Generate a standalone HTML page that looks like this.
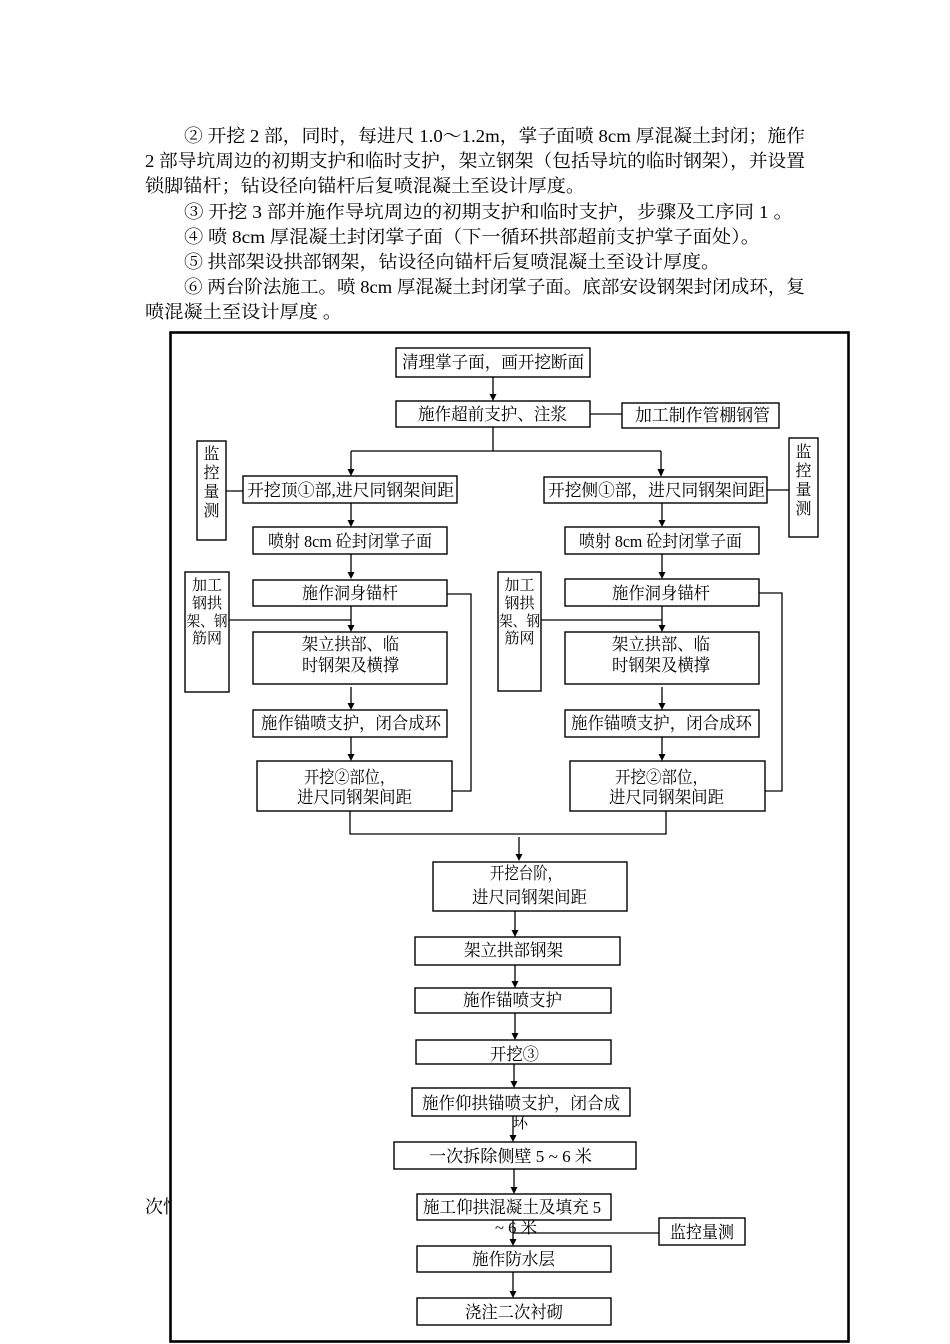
<!DOCTYPE html>
<html><head><meta charset="utf-8">
<style>
html,body{margin:0;padding:0;background:#fff;}
svg{display:block;}
text{font-family:"Liberation Serif","Noto Serif CJK SC",serif;fill:#000;}
</style></head>
<body>
<svg width="950" height="1344" viewBox="0 0 950 1344" xmlns="http://www.w3.org/2000/svg">
<defs>
<clipPath id="cl"><rect x="0" y="1180" width="170" height="50"/></clipPath>
</defs>
<rect width="950" height="1344" fill="#fff"/>

<!-- paragraph -->
<g font-size="18" lengthAdjust="spacingAndGlyphs">
<text x="184" y="142" textLength="621" lengthAdjust="spacingAndGlyphs">② 开挖 2 部，同时，每进尺 1.0～1.2m，掌子面喷 8cm 厚混凝土封闭；施作</text>
<text x="145" y="167" textLength="660" lengthAdjust="spacingAndGlyphs">2 部导坑周边的初期支护和临时支护，架立钢架（包括导坑的临时钢架），并设置</text>
<text x="145" y="192" textLength="440" lengthAdjust="spacingAndGlyphs">锁脚锚杆；钻设径向锚杆后复喷混凝土至设计厚度。</text>
<text x="184" y="218" textLength="609" lengthAdjust="spacingAndGlyphs">③ 开挖 3 部并施作导坑周边的初期支护和临时支护，步骤及工序同 1 。</text>
<text x="184" y="243" textLength="576" lengthAdjust="spacingAndGlyphs">④ 喷 8cm 厚混凝土封闭掌子面（下一循环拱部超前支护掌子面处）。</text>
<text x="184" y="268" textLength="536" lengthAdjust="spacingAndGlyphs">⑤ 拱部架设拱部钢架，钻设径向锚杆后复喷混凝土至设计厚度。</text>
<text x="184" y="293" textLength="621" lengthAdjust="spacingAndGlyphs">⑥ 两台阶法施工。喷 8cm 厚混凝土封闭掌子面。底部安设钢架封闭成环，复</text>
<text x="145" y="318" textLength="197" lengthAdjust="spacingAndGlyphs">喷混凝土至设计厚度 。</text>
</g>

<!-- outside stray text -->
<text x="145" y="1213" font-size="18" clip-path="url(#cl)">次忙</text>

<!-- frame -->
<rect x="170.5" y="332.5" width="678" height="1009" fill="none" stroke="#000" stroke-width="2.6"/>

<!-- connectors -->
<g stroke="#000" stroke-width="1.3" fill="none">
<line x1="493" y1="377" x2="493" y2="395"/>
<line x1="590" y1="414" x2="622" y2="414"/>
<line x1="493" y1="427" x2="493" y2="451"/>
<line x1="351" y1="451" x2="661" y2="451"/>
<line x1="351" y1="451" x2="351" y2="470"/>
<line x1="661" y1="451" x2="661" y2="470"/>
<line x1="226" y1="491" x2="243" y2="491"/>
<line x1="767" y1="490" x2="789" y2="490"/>
<!-- left column -->
<line x1="351" y1="503" x2="351" y2="521"/>
<line x1="351" y1="554" x2="351" y2="573"/>
<line x1="351" y1="606" x2="351" y2="626"/>
<line x1="229" y1="620" x2="351" y2="620"/>
<line x1="351" y1="687" x2="351" y2="704"/>
<line x1="351" y1="737" x2="351" y2="755"/>
<polyline points="447,594 471,594 471,791 452,791"/>
<!-- right column -->
<line x1="662" y1="503" x2="662" y2="521"/>
<line x1="662" y1="554" x2="662" y2="573"/>
<line x1="662" y1="606" x2="662" y2="626"/>
<line x1="541" y1="620" x2="662" y2="620"/>
<line x1="662" y1="687" x2="662" y2="704"/>
<line x1="662" y1="737" x2="662" y2="755"/>
<polyline points="759,593 782,593 782,791 765,791"/>
<!-- merge -->
<polyline points="350,811 350,834 666,834 666,811"/>
<line x1="519" y1="837" x2="519" y2="855"/>
<line x1="515" y1="911" x2="515" y2="931"/>
<line x1="515" y1="965" x2="515" y2="982"/>
<line x1="515" y1="1013" x2="515" y2="1034"/>
<line x1="514" y1="1064" x2="514" y2="1082"/>
<line x1="513" y1="1116" x2="513" y2="1136"/>
<line x1="514" y1="1169" x2="514" y2="1188"/>
<line x1="513" y1="1220" x2="513" y2="1240"/>
<line x1="513" y1="1233" x2="659" y2="1233"/>
<line x1="513" y1="1272" x2="513" y2="1292"/>
</g>

<!-- arrowheads -->
<g fill="#000">
<polygon points="489.5,394 496.5,394 493,401"/>
<polygon points="347.5,469 354.5,469 351,476"/>
<polygon points="657.5,469 664.5,469 661,477"/>
<polygon points="347.5,520 354.5,520 351,527"/>
<polygon points="347.5,572 354.5,572 351,579"/>
<polygon points="347.5,625 354.5,625 351,632"/>
<polygon points="347.5,703 354.5,703 351,710"/>
<polygon points="347.5,754 354.5,754 351,761"/>
<polygon points="658.5,520 665.5,520 662,527"/>
<polygon points="658.5,572 665.5,572 662,579"/>
<polygon points="658.5,625 665.5,625 662,632"/>
<polygon points="658.5,703 665.5,703 662,710"/>
<polygon points="658.5,754 665.5,754 662,761"/>
<polygon points="515.5,854 522.5,854 519,861"/>
<polygon points="511.5,930 518.5,930 515,937"/>
<polygon points="511.5,981 518.5,981 515,988"/>
<polygon points="511.5,1033 518.5,1033 515,1040"/>
<polygon points="510.5,1081 517.5,1081 514,1088"/>
<polygon points="509.5,1135 516.5,1135 513,1142"/>
<polygon points="510.5,1187 517.5,1187 514,1194"/>
<polygon points="509.5,1239 516.5,1239 513,1246"/>
<polygon points="509.5,1291 516.5,1291 513,1298"/>
</g>

<!-- overflow texts (drawn before boxes so boxes clip their tops) -->
<text x="513" y="1128" font-size="16" textLength="15" lengthAdjust="spacingAndGlyphs">环</text>
<text x="495" y="1233" font-size="16" textLength="42" lengthAdjust="spacingAndGlyphs">~ 6 米</text>

<!-- boxes -->
<g fill="#fff" stroke="#000" stroke-width="1.4">
<rect x="396" y="348" width="194" height="29"/>
<rect x="396" y="401" width="194" height="26"/>
<rect x="622" y="403" width="157" height="25"/>
<rect x="197" y="441" width="29" height="99"/>
<rect x="789" y="438" width="29" height="99"/>
<rect x="243" y="476" width="214" height="27"/>
<rect x="544" y="477" width="223" height="26"/>
<rect x="253" y="527" width="194" height="27"/>
<rect x="565" y="527" width="194" height="27"/>
<rect x="253" y="580" width="194" height="26"/>
<rect x="565" y="579" width="194" height="27"/>
<rect x="185" y="572" width="44" height="120"/>
<rect x="498" y="572" width="43" height="119"/>
<rect x="253" y="632" width="194" height="52"/>
<rect x="565" y="632" width="194" height="52"/>
<rect x="253" y="710" width="194" height="27"/>
<rect x="565" y="710" width="194" height="27"/>
<rect x="257" y="761" width="195" height="50"/>
<rect x="570" y="761" width="195" height="50"/>
<rect x="433" y="862" width="194" height="49"/>
<rect x="415" y="937" width="205" height="28"/>
<rect x="415" y="988" width="196" height="25"/>
<rect x="416" y="1040" width="195" height="24"/>
<rect x="412" y="1088" width="218" height="28"/>
<rect x="394" y="1142" width="242" height="27"/>
<rect x="417" y="1194" width="194" height="26"/>
<rect x="659" y="1218" width="86" height="27"/>
<rect x="417" y="1246" width="194" height="26"/>
<rect x="417" y="1298" width="194" height="27"/>
</g>

<!-- box texts -->
<g font-size="17">
<text x="402" y="368" textLength="182" lengthAdjust="spacingAndGlyphs">清理掌子面，画开挖断面</text>
<text x="418" y="420" textLength="149" lengthAdjust="spacingAndGlyphs">施作超前支护、注浆</text>
<text x="635" y="421" textLength="135" lengthAdjust="spacingAndGlyphs">加工制作管棚钢管</text>
<text x="247" y="496" textLength="207" lengthAdjust="spacingAndGlyphs">开挖顶①部,进尺同钢架间距</text>
<text x="548" y="496" textLength="217" lengthAdjust="spacingAndGlyphs">开挖侧①部，进尺同钢架间距</text>
<text x="268" y="547" textLength="164" lengthAdjust="spacingAndGlyphs">喷射 8cm 砼封闭掌子面</text>
<text x="579" y="547" textLength="163" lengthAdjust="spacingAndGlyphs">喷射 8cm 砼封闭掌子面</text>
<text x="302" y="599" textLength="96" lengthAdjust="spacingAndGlyphs">施作洞身锚杆</text>
<text x="612" y="599" textLength="98" lengthAdjust="spacingAndGlyphs">施作洞身锚杆</text>
<text x="302" y="650" textLength="97" lengthAdjust="spacingAndGlyphs">架立拱部、临</text>
<text x="302" y="671" textLength="97" lengthAdjust="spacingAndGlyphs">时钢架及横撑</text>
<text x="612" y="650" textLength="98" lengthAdjust="spacingAndGlyphs">架立拱部、临</text>
<text x="612" y="671" textLength="98" lengthAdjust="spacingAndGlyphs">时钢架及横撑</text>
<text x="261" y="729" textLength="180" lengthAdjust="spacingAndGlyphs">施作锚喷支护，闭合成环</text>
<text x="571" y="729" textLength="181" lengthAdjust="spacingAndGlyphs">施作锚喷支护，闭合成环</text>
<text x="304" y="783" textLength="91" lengthAdjust="spacingAndGlyphs">开挖②部位，</text>
<text x="297" y="803" textLength="115" lengthAdjust="spacingAndGlyphs">进尺同钢架间距</text>
<text x="615" y="783" textLength="93" lengthAdjust="spacingAndGlyphs">开挖②部位，</text>
<text x="609" y="803" textLength="115" lengthAdjust="spacingAndGlyphs">进尺同钢架间距</text>
<text x="490" y="879" textLength="72" lengthAdjust="spacingAndGlyphs">开挖台阶，</text>
<text x="472" y="903" textLength="115" lengthAdjust="spacingAndGlyphs">进尺同钢架间距</text>
<text x="464" y="956" textLength="99" lengthAdjust="spacingAndGlyphs">架立拱部钢架</text>
<text x="463" y="1006" textLength="99" lengthAdjust="spacingAndGlyphs">施作锚喷支护</text>
<text x="490" y="1060" textLength="49" lengthAdjust="spacingAndGlyphs">开挖③</text>
<text x="422" y="1109" textLength="198" lengthAdjust="spacingAndGlyphs">施作仰拱锚喷支护，闭合成</text>
<text x="429" y="1162" textLength="163" lengthAdjust="spacingAndGlyphs">一次拆除侧壁 5 ~ 6 米</text>
<text x="423" y="1213" textLength="178" lengthAdjust="spacingAndGlyphs">施工仰拱混凝土及填充 5</text>
<text x="670" y="1238" textLength="64" lengthAdjust="spacingAndGlyphs">监控量测</text>
<text x="472" y="1265" textLength="83" lengthAdjust="spacingAndGlyphs">施作防水层</text>
<text x="465" y="1318" textLength="98" lengthAdjust="spacingAndGlyphs">浇注二次衬砌</text>
</g>

<!-- vertical 监控量测 -->
<g font-size="16" text-anchor="middle">
<text x="211.5" y="459">监</text>
<text x="211.5" y="478">控</text>
<text x="211.5" y="497">量</text>
<text x="211.5" y="516">测</text>
<text x="803.5" y="457">监</text>
<text x="803.5" y="476">控</text>
<text x="803.5" y="495">量</text>
<text x="803.5" y="514">测</text>
</g>

<!-- 加工钢拱架、钢筋网 -->
<g font-size="15" text-anchor="middle">
<text x="207" y="590">加工</text>
<text x="207" y="608">钢拱</text>
<text x="207" y="626" textLength="41" lengthAdjust="spacingAndGlyphs">架、钢</text>
<text x="207" y="643">筋网</text>
<text x="519.5" y="590">加工</text>
<text x="519.5" y="608">钢拱</text>
<text x="519.5" y="626" textLength="41" lengthAdjust="spacingAndGlyphs">架、钢</text>
<text x="519.5" y="643">筋网</text>
</g>
</svg>
</body></html>
